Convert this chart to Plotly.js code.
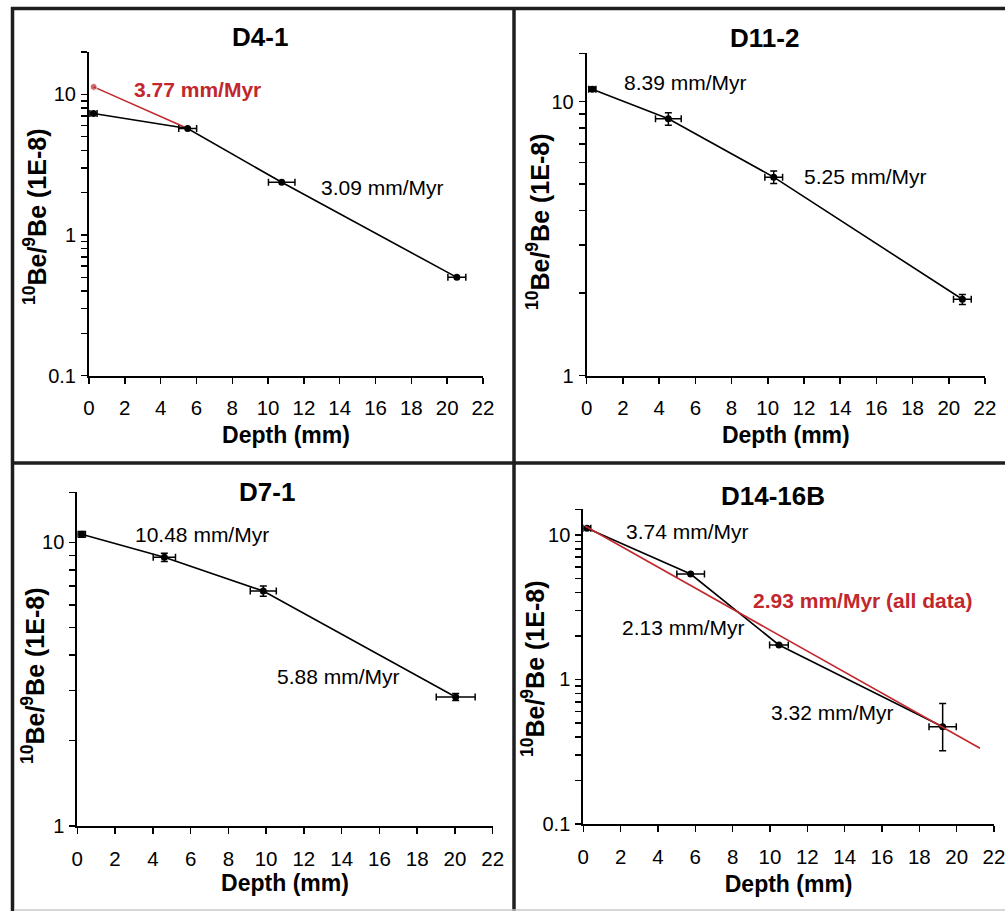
<!DOCTYPE html>
<html>
<head>
<meta charset="utf-8">
<script src="https://cdn.plot.ly/plotly-3.0.1.min.js"></script>
<style>html,body{margin:0;padding:0;background:#fff;}#chart{width:1005px;height:911px;}</style>
</head>
<body>
<div id="chart"></div>
<script>
// ---------- DATA ----------
const panelNames = ["D4-1", "D11-2", "D7-1", "D14-16B"];
const xTitleText = "Depth (mm)";
const yTitleText = "<sup>10</sup>Be/<sup>9</sup>Be (1E-8)";

// D4-1
const d41Depth = [0.25, 5.51, 10.76, 20.54];
const d41Ratio = [7.3, 5.71, 2.37, 0.50];
const d41DepthErr = [0.2, 0.5, 0.74, 0.5];
const d41SurfDepth = [0.26, 5.51];
const d41SurfRatio = [11.3, 5.71];
const d41Labels = ["3.77 mm/Myr", "3.09 mm/Myr"];

// D11-2
const d112Depth = [0.31, 4.51, 10.33, 20.75];
const d112Ratio = [11.1, 8.65, 5.30, 1.90];
const d112DepthErr = [0.2, 0.71, 0.49, 0.49];
const d112RatioErr = [0.2, 0.45, 0.28, 0.08];
const d112Labels = ["8.39 mm/Myr", "5.25 mm/Myr"];

// D7-1
const d71Depth = [0.23, 4.61, 9.85, 20.04];
const d71Ratio = [10.67, 8.85, 6.73, 2.85];
const d71DepthErr = [0.2, 0.59, 0.69, 1.03];
const d71RatioErr = [0.25, 0.29, 0.28, 0.08];
const d71Labels = ["10.48 mm/Myr", "5.88 mm/Myr"];

// D14-16B
const d1416Depth = [0.2, 5.75, 10.48, 19.25];
const d1416Ratio = [11.1, 5.35, 1.73, 0.471];
const d1416DepthErr = [0.2, 0.74, 0.5, 0.73];
const d1416RatioErrPlus = [0, 0, 0, 0.21];
const d1416RatioErrMinus = [0, 0, 0, 0.15];
const d1416FitDepth = [0.09, 21.25];
const d1416FitRatio = [11.5, 0.334];
const d1416Labels = ["3.74 mm/Myr", "2.93 mm/Myr (all data)", "2.13 mm/Myr", "3.32 mm/Myr"];

// tick labels
const xTickVals = [0, 2, 4, 6, 8, 10, 12, 14, 16, 18, 20, 22];
const yTickVals3 = [0.1, 1, 10];
const yTickText3 = ["0.1", "1", "10"];
const yTickVals2 = [1, 10];
const yTickText2 = ["1", "10"];
const minorLow = [0.2, 0.3, 0.4, 0.5, 0.6, 0.7, 0.8, 0.9];
const minorMid = [2, 3, 4, 5, 6, 7, 8, 9];

// ---------- STYLE ----------
const FONT = 'Arial, "Liberation Sans", sans-serif';
const RED = '#C1272D';
const BLACK = '#000000';
const px = (x) => x / 1005;
const py = (y) => 1 - y / 911;

function xAxis(x0, x1, anchor, standoff) {
  return {
    domain: [px(x0), px(x1)], anchor: anchor, range: [0, 22],
    tickmode: 'array', tickvals: xTickVals,
    ticks: 'outside', ticklen: 6, tickwidth: 1.5, tickcolor: BLACK,
    ticklabelstandoff: 7, ticklabeloverflow: 'allow',
    showline: true, linewidth: 2, linecolor: BLACK,
    showgrid: false, zeroline: false, automargin: false,
    tickfont: {family: FONT, size: 20.5, color: BLACK},
    title: {text: '<b>' + xTitleText + '</b>', font: {family: FONT, size: 23, color: BLACK}, standoff: standoff}
  };
}
function yAxis(y0, y1, anchor, logRange, tv, tt, minorVals) {
  return {
    domain: [py(y1), py(y0)], anchor: anchor, type: 'log', range: logRange,
    tickmode: 'array', tickvals: tv, ticktext: tt,
    ticks: 'outside', ticklen: 6, tickwidth: 1.5, tickcolor: BLACK,
    ticklabelstandoff: 1, ticklabeloverflow: 'allow',
    minor: {tickmode: 'array', tickvals: minorVals, ticks: 'outside', ticklen: 6, tickwidth: 1.5, tickcolor: BLACK, showgrid: false},
    showline: true, linewidth: 2, linecolor: BLACK,
    showgrid: false, zeroline: false, automargin: false,
    tickfont: {family: FONT, size: 20, color: BLACK}
  };
}

function dataTrace(x, y, xe, yeP, yeM, xa, ya) {
  const t = {
    x: x, y: y, xaxis: xa, yaxis: ya, type: 'scatter', mode: 'lines+markers',
    line: {color: BLACK, width: 1.6}, marker: {color: BLACK, size: 7},
    error_x: {type: 'data', array: xe, visible: true, color: BLACK, thickness: 1.5, width: 3.5},
    showlegend: false, hoverinfo: 'x+y'
  };
  if (yeP) {
    t.error_y = {type: 'data', array: yeP, visible: true, color: BLACK, thickness: 1.5, width: 3.5};
    if (yeM) { t.error_y.symmetric = false; t.error_y.arrayminus = yeM; }
  }
  return t;
}

const traces = [
  // D4-1
  {x: d41SurfDepth, y: d41SurfRatio, xaxis: 'x', yaxis: 'y', type: 'scatter', mode: 'lines+markers',
   line: {color: RED, width: 1.6}, marker: {color: RED, size: [7, 0]}, showlegend: false},
  dataTrace(d41Depth, d41Ratio, d41DepthErr, null, null, 'x', 'y'),
  // D11-2
  dataTrace(d112Depth, d112Ratio, d112DepthErr, d112RatioErr, null, 'x2', 'y2'),
  // D7-1
  dataTrace(d71Depth, d71Ratio, d71DepthErr, d71RatioErr, null, 'x3', 'y3'),
  // D14-16B
  dataTrace(d1416Depth, d1416Ratio, d1416DepthErr, d1416RatioErrPlus, d1416RatioErrMinus, 'x4', 'y4'),
  {x: d1416FitDepth, y: d1416FitRatio, xaxis: 'x4', yaxis: 'y4', type: 'scatter', mode: 'lines',
   line: {color: RED, width: 1.6}, showlegend: false}
];

function note(text, xa, ya, x, logy, opts) {
  opts = opts || {};
  return {
    text: text, xref: xa, yref: ya, x: x, y: logy, xanchor: 'left', yanchor: 'middle',
    showarrow: false,
    font: {family: FONT, size: 21, color: opts.color || BLACK}
  };
}
function titleNote(text, x, y) {
  return {text: '<b>' + text + '</b>', xref: 'paper', yref: 'paper', x: px(x), y: py(y),
    xanchor: 'center', yanchor: 'middle', showarrow: false,
    font: {family: FONT, size: 26, color: BLACK}};
}
function yTitleNote(x, y) {
  return {text: '<b>' + yTitleText + '</b>', xref: 'paper', yref: 'paper', x: px(x), y: py(y),
    xanchor: 'center', yanchor: 'middle', textangle: -90, showarrow: false,
    font: {family: FONT, size: 25, color: BLACK}};
}

const annotations = [
  titleNote(panelNames[0], 260, 37),
  titleNote(panelNames[1], 764, 38),
  titleNote(panelNames[2], 267, 492),
  titleNote(panelNames[3], 773, 496),
  yTitleNote(35, 217),
  yTitleNote(538, 222),
  yTitleNote(33, 676),
  yTitleNote(533, 669),
  note('<b>' + d41Labels[0] + '</b>', 'x', 'y', 2.38, 1.035, {color: RED}),
  note(d41Labels[1], 'x', 'y', 12.84, 0.340),
  note(d112Labels[0], 'x2', 'y2', 1.93, 1.069),
  note(d112Labels[1], 'x2', 'y2', 11.88, 0.726),
  note(d71Labels[0], 'x3', 'y3', 2.93, 1.026),
  note(d71Labels[1], 'x3', 'y3', 10.47, 0.526),
  note(d1416Labels[0], 'x4', 'y4', 2.18, 1.023),
  note('<b>' + d1416Labels[1] + '</b>', 'x4', 'y4', 8.98, 0.545, {color: RED}),
  note(d1416Labels[2], 'x4', 'y4', 1.97, 0.358),
  note(d1416Labels[3], 'x4', 'y4', 9.95, -0.230)
];

const borderColor = '#1e1e1e';
const shapes = [
  {type: 'line', xref: 'paper', yref: 'paper', x0: px(12.5), x1: px(12.5), y0: py(7), y1: py(911), line: {color: borderColor, width: 3.5}},
  {type: 'line', xref: 'paper', yref: 'paper', x0: px(11), x1: px(1005), y0: py(8.5), y1: py(8.5), line: {color: borderColor, width: 3.5}},
  {type: 'line', xref: 'paper', yref: 'paper', x0: px(514), x1: px(514), y0: py(7), y1: py(911), line: {color: borderColor, width: 3.5}},
  {type: 'line', xref: 'paper', yref: 'paper', x0: px(11), x1: px(1005), y0: py(463), y1: py(463), line: {color: borderColor, width: 3.5}},
  {type: 'line', xref: 'paper', yref: 'paper', x0: px(14), x1: px(1005), y0: py(910), y1: py(910), line: {color: '#c8c8c8', width: 1.5}}
];

const layout = {
  width: 1005, height: 911,
  margin: {l: 0, r: 0, t: 0, b: 0},
  paper_bgcolor: '#ffffff', plot_bgcolor: 'rgba(0,0,0,0)',
  font: {family: FONT, color: BLACK},
  showlegend: false,
  xaxis: xAxis(89, 483, 'y', 9),
  yaxis: yAxis(52, 375.7, 'x', [-1, Math.log10(20)], yTickVals3, yTickText3, minorLow.concat(minorMid, [20])),
  xaxis2: xAxis(586.7, 985, 'y2', 9),
  yaxis2: yAxis(53.3, 375.7, 'x2', [0, Math.log10(15)], yTickVals2, yTickText2, minorMid.concat([15])),
  xaxis3: xAxis(77.3, 492.7, 'y3', 5),
  yaxis3: yAxis(492.3, 826, 'x3', [0, Math.log10(15)], yTickVals2, yTickText2, minorMid.concat([15])),
  xaxis4: xAxis(583.3, 994, 'y4', 9),
  yaxis4: yAxis(509.3, 824, 'x4', [-1, Math.log10(15)], yTickVals3, yTickText3, minorLow.concat(minorMid, [15])),
  annotations: annotations,
  shapes: shapes
};

Plotly.newPlot('chart', traces, layout, {displayModeBar: false, staticPlot: true});
</script>
</body>
</html>
